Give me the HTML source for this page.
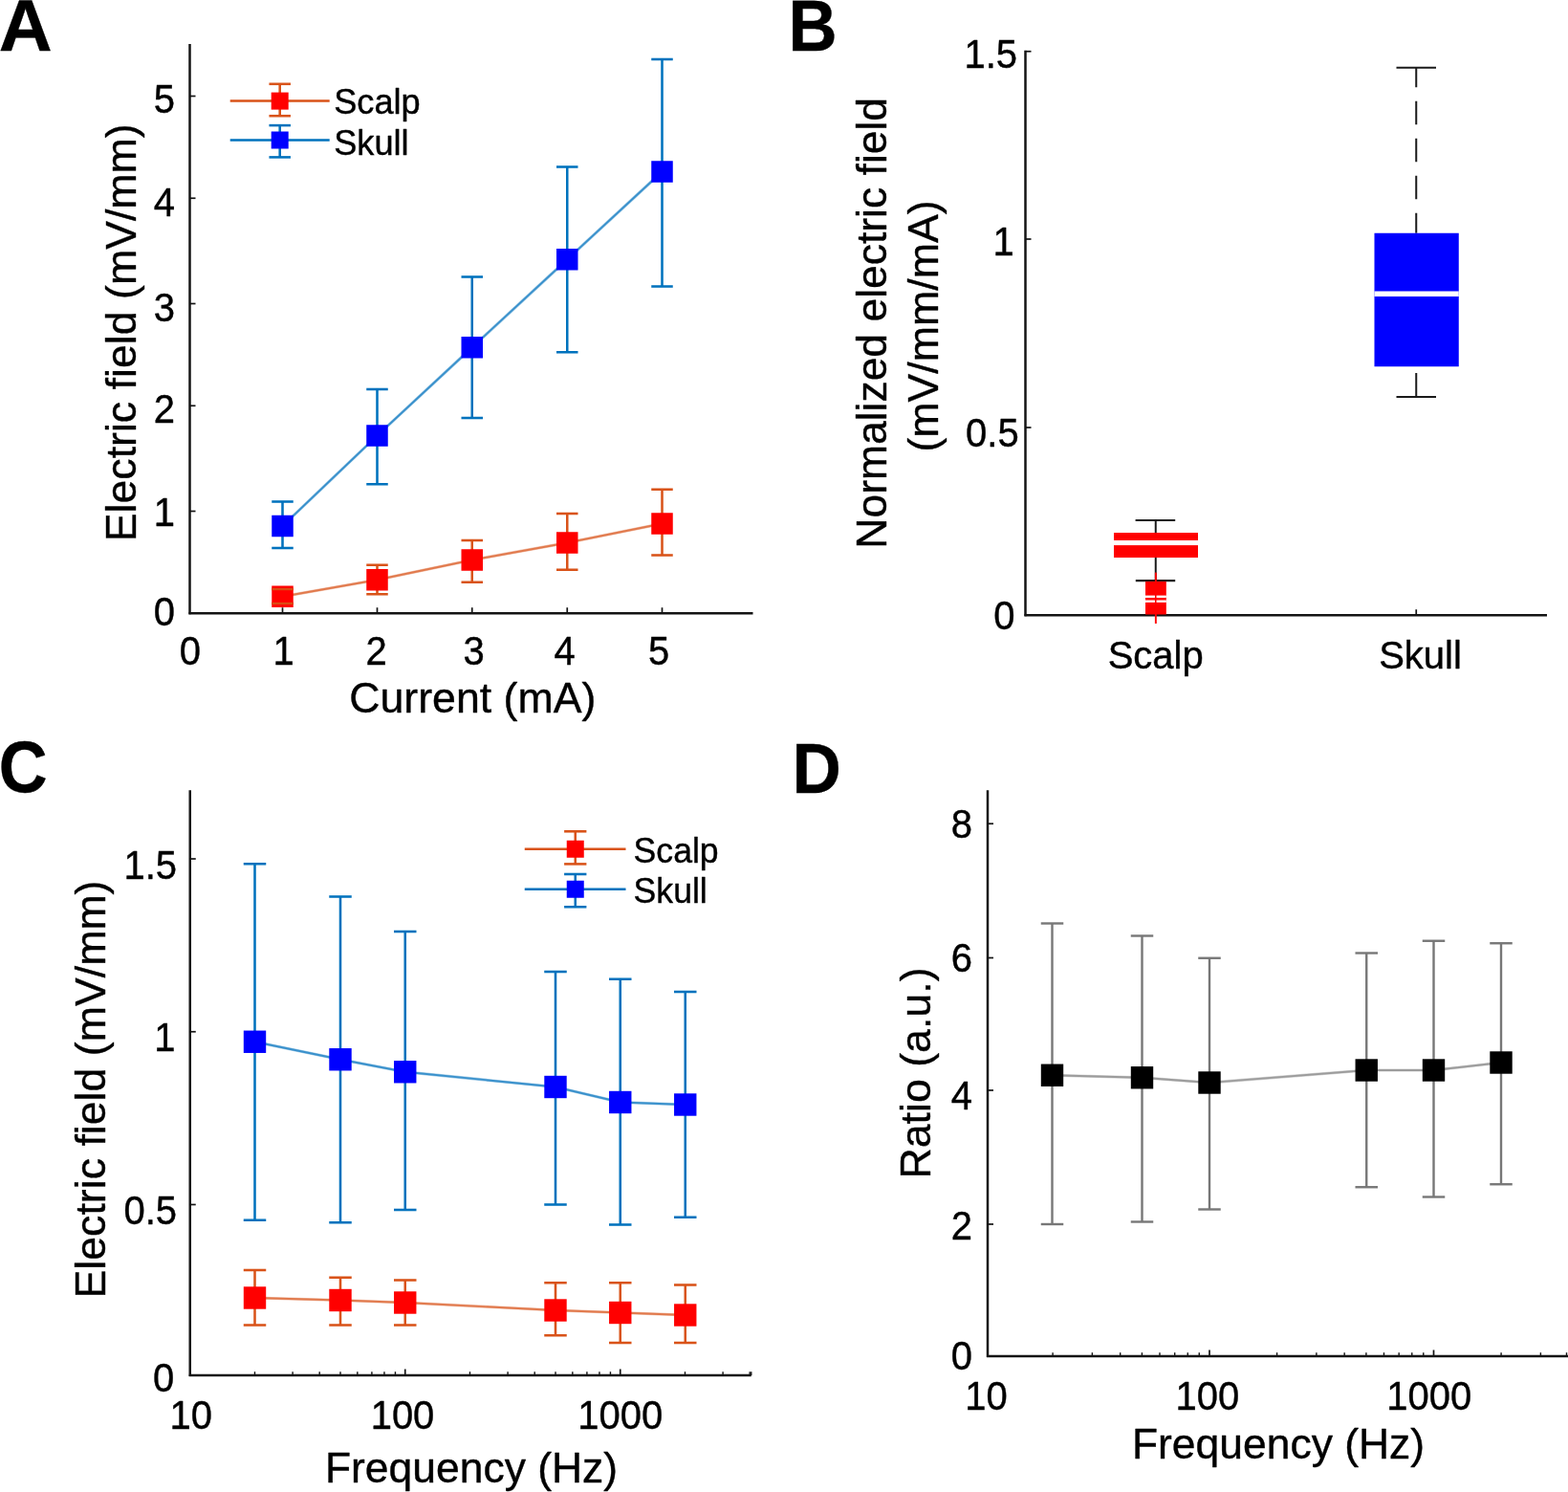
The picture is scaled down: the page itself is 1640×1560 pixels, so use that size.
<!DOCTYPE html>
<html lang="en">
<head>
<meta charset="utf-8">
<title>Electric field measurements: scalp vs skull stimulation</title>
<style>
html, body { margin: 0; padding: 0; background: #fff; }
body { width: 1640px; height: 1560px; overflow: hidden; }
svg { display: block; }
svg text { font-family: "Liberation Sans", sans-serif; fill: #000; stroke: #000; stroke-width: 0.4px; stroke-linejoin: round; }
</style>
</head>
<body>
<svg width="1640" height="1560" viewBox="0 0 1640 1560" role="img" aria-label="Four-panel figure of electric field measurements for scalp and skull stimulation">
<rect x="0" y="0" width="1640" height="1560" fill="#fff"/>
<g id="panelA">
<text transform="translate(-1.30 52.60) scale(1.0670 1.0450)" font-size="72.5" font-weight="bold">A</text>
<line x1="198.50" y1="46.00" x2="198.50" y2="642.25" stroke="#141414" stroke-width="2.5" />
<line x1="197.50" y1="641.25" x2="787.50" y2="641.25" stroke="#141414" stroke-width="2.5" />
<line x1="198.50" y1="100.50" x2="204.50" y2="100.50" stroke="#141414" stroke-width="1.7" />
<text transform="translate(183.00 117.60) scale(1.0000 1.0400)" font-size="40" text-anchor="end">5</text>
<line x1="198.50" y1="207.25" x2="204.50" y2="207.25" stroke="#141414" stroke-width="1.7" />
<text transform="translate(183.00 225.80) scale(1.0000 1.0400)" font-size="40" text-anchor="end">4</text>
<line x1="198.50" y1="317.50" x2="204.50" y2="317.50" stroke="#141414" stroke-width="1.7" />
<text transform="translate(183.00 335.80) scale(1.0000 1.0400)" font-size="40" text-anchor="end">3</text>
<line x1="198.50" y1="424.25" x2="204.50" y2="424.25" stroke="#141414" stroke-width="1.7" />
<text transform="translate(183.00 441.50) scale(1.0000 1.0400)" font-size="40" text-anchor="end">2</text>
<line x1="198.50" y1="534.50" x2="204.50" y2="534.50" stroke="#141414" stroke-width="1.7" />
<text transform="translate(183.00 550.00) scale(1.0000 1.0400)" font-size="40" text-anchor="end">1</text>
<text transform="translate(183.00 653.60) scale(1.0000 1.0400)" font-size="40" text-anchor="end">0</text>
<text transform="translate(198.90 695.00) scale(1.0000 1.0400)" font-size="40" text-anchor="middle">0</text>
<line x1="295.50" y1="641.25" x2="295.50" y2="635.25" stroke="#141414" stroke-width="1.7" />
<text transform="translate(296.50 695.00) scale(1.0000 1.0400)" font-size="40" text-anchor="middle">1</text>
<line x1="394.50" y1="641.25" x2="394.50" y2="635.25" stroke="#141414" stroke-width="1.7" />
<text transform="translate(393.50 695.00) scale(1.0000 1.0400)" font-size="40" text-anchor="middle">2</text>
<line x1="493.75" y1="641.25" x2="493.75" y2="635.25" stroke="#141414" stroke-width="1.7" />
<text transform="translate(495.60 695.00) scale(1.0000 1.0400)" font-size="40" text-anchor="middle">3</text>
<line x1="593.25" y1="641.25" x2="593.25" y2="635.25" stroke="#141414" stroke-width="1.7" />
<text transform="translate(590.50 695.00) scale(1.0000 1.0400)" font-size="40" text-anchor="middle">4</text>
<line x1="692.50" y1="641.25" x2="692.50" y2="635.25" stroke="#141414" stroke-width="1.7" />
<text transform="translate(689.00 695.00) scale(1.0000 1.0400)" font-size="40" text-anchor="middle">5</text>
<text transform="translate(494.30 745.00) scale(1.0000 0.9900)" font-size="44.7" text-anchor="middle">Current (mA)</text>
<text transform="translate(142.00 347.80) rotate(-90) scale(1.0000 0.9900)" font-size="44.7" text-anchor="middle">Electric field (mV/mm)</text>
<polyline points="295.50,623.75 394.50,606.25 493.75,585.50 593.25,567.50 692.50,547.50" fill="none" stroke="#D95319" stroke-width="3.0999999999999996" stroke-opacity="0.35"/>
<polyline points="295.50,623.75 394.50,606.25 493.75,585.50 593.25,567.50 692.50,547.50" fill="none" stroke="#e17a4d" stroke-width="1.9"/>
<line x1="295.50" y1="616.00" x2="295.50" y2="631.00" stroke="#D95319" stroke-width="2.55" />
<line x1="284.25" y1="616.00" x2="306.75" y2="616.00" stroke="#D95319" stroke-width="2.55" />
<line x1="284.25" y1="631.00" x2="306.75" y2="631.00" stroke="#D95319" stroke-width="2.55" />
<line x1="394.50" y1="590.75" x2="394.50" y2="621.25" stroke="#D95319" stroke-width="2.55" />
<line x1="383.25" y1="590.75" x2="405.75" y2="590.75" stroke="#D95319" stroke-width="2.55" />
<line x1="383.25" y1="621.25" x2="405.75" y2="621.25" stroke="#D95319" stroke-width="2.55" />
<line x1="493.75" y1="565.00" x2="493.75" y2="608.75" stroke="#D95319" stroke-width="2.55" />
<line x1="482.50" y1="565.00" x2="505.00" y2="565.00" stroke="#D95319" stroke-width="2.55" />
<line x1="482.50" y1="608.75" x2="505.00" y2="608.75" stroke="#D95319" stroke-width="2.55" />
<line x1="593.25" y1="537.00" x2="593.25" y2="595.75" stroke="#D95319" stroke-width="2.55" />
<line x1="582.00" y1="537.00" x2="604.50" y2="537.00" stroke="#D95319" stroke-width="2.55" />
<line x1="582.00" y1="595.75" x2="604.50" y2="595.75" stroke="#D95319" stroke-width="2.55" />
<line x1="692.50" y1="511.75" x2="692.50" y2="580.50" stroke="#D95319" stroke-width="2.55" />
<line x1="681.25" y1="511.75" x2="703.75" y2="511.75" stroke="#D95319" stroke-width="2.55" />
<line x1="681.25" y1="580.50" x2="703.75" y2="580.50" stroke="#D95319" stroke-width="2.55" />
<rect x="284.25" y="612.50" width="22.50" height="22.50" fill="#FF0000"/>
<rect x="383.25" y="595.00" width="22.50" height="22.50" fill="#FF0000"/>
<rect x="482.50" y="574.25" width="22.50" height="22.50" fill="#FF0000"/>
<rect x="582.00" y="556.25" width="22.50" height="22.50" fill="#FF0000"/>
<rect x="681.25" y="536.25" width="22.50" height="22.50" fill="#FF0000"/>
<polyline points="295.50,550.00 394.50,455.50 493.75,363.25 593.25,271.25 692.50,179.50" fill="none" stroke="#0072BD" stroke-width="3.0999999999999996" stroke-opacity="0.35"/>
<polyline points="295.50,550.00 394.50,455.50 493.75,363.25 593.25,271.25 692.50,179.50" fill="none" stroke="#3a91cc" stroke-width="1.9"/>
<line x1="295.50" y1="524.50" x2="295.50" y2="573.00" stroke="#0072BD" stroke-width="2.55" />
<line x1="284.25" y1="524.50" x2="306.75" y2="524.50" stroke="#0072BD" stroke-width="2.55" />
<line x1="284.25" y1="573.00" x2="306.75" y2="573.00" stroke="#0072BD" stroke-width="2.55" />
<line x1="394.50" y1="407.00" x2="394.50" y2="506.25" stroke="#0072BD" stroke-width="2.55" />
<line x1="383.25" y1="407.00" x2="405.75" y2="407.00" stroke="#0072BD" stroke-width="2.55" />
<line x1="383.25" y1="506.25" x2="405.75" y2="506.25" stroke="#0072BD" stroke-width="2.55" />
<line x1="493.75" y1="289.50" x2="493.75" y2="437.00" stroke="#0072BD" stroke-width="2.55" />
<line x1="482.50" y1="289.50" x2="505.00" y2="289.50" stroke="#0072BD" stroke-width="2.55" />
<line x1="482.50" y1="437.00" x2="505.00" y2="437.00" stroke="#0072BD" stroke-width="2.55" />
<line x1="593.25" y1="174.50" x2="593.25" y2="368.25" stroke="#0072BD" stroke-width="2.55" />
<line x1="582.00" y1="174.50" x2="604.50" y2="174.50" stroke="#0072BD" stroke-width="2.55" />
<line x1="582.00" y1="368.25" x2="604.50" y2="368.25" stroke="#0072BD" stroke-width="2.55" />
<line x1="692.50" y1="62.00" x2="692.50" y2="299.50" stroke="#0072BD" stroke-width="2.55" />
<line x1="681.25" y1="62.00" x2="703.75" y2="62.00" stroke="#0072BD" stroke-width="2.55" />
<line x1="681.25" y1="299.50" x2="703.75" y2="299.50" stroke="#0072BD" stroke-width="2.55" />
<rect x="284.25" y="538.75" width="22.50" height="22.50" fill="#0000FF"/>
<rect x="383.25" y="444.25" width="22.50" height="22.50" fill="#0000FF"/>
<rect x="482.50" y="352.00" width="22.50" height="22.50" fill="#0000FF"/>
<rect x="582.00" y="260.00" width="22.50" height="22.50" fill="#0000FF"/>
<rect x="681.25" y="168.25" width="22.50" height="22.50" fill="#0000FF"/>
<line x1="284.25" y1="616.00" x2="306.75" y2="616.00" stroke="#dc4a12" stroke-width="2.4" />
<line x1="284.25" y1="631.00" x2="306.75" y2="631.00" stroke="#dc4a12" stroke-width="2.4" />
<line x1="240.70" y1="105.60" x2="344.70" y2="105.60" stroke="#D95319" stroke-width="2.5" />
<line x1="292.70" y1="87.80" x2="292.70" y2="121.20" stroke="#D95319" stroke-width="2.55" />
<line x1="281.45" y1="87.80" x2="303.95" y2="87.80" stroke="#D95319" stroke-width="2.55" />
<line x1="281.45" y1="121.20" x2="303.95" y2="121.20" stroke="#D95319" stroke-width="2.55" />
<rect x="283.70" y="96.60" width="18.00" height="18.00" fill="#FF0000"/>
<text transform="translate(349.20 119.10) scale(1.0000 1.0300)" font-size="36.2">Scalp</text>
<line x1="240.70" y1="146.50" x2="344.70" y2="146.50" stroke="#0072BD" stroke-width="2.5" />
<line x1="292.70" y1="131.10" x2="292.70" y2="164.40" stroke="#0072BD" stroke-width="2.55" />
<line x1="281.45" y1="131.10" x2="303.95" y2="131.10" stroke="#0072BD" stroke-width="2.55" />
<line x1="281.45" y1="164.40" x2="303.95" y2="164.40" stroke="#0072BD" stroke-width="2.55" />
<rect x="283.70" y="137.50" width="18.00" height="18.00" fill="#0000FF"/>
<text transform="translate(349.20 161.60) scale(1.0000 1.0300)" font-size="36.2">Skull</text>
</g>
<g id="panelB">
<text transform="translate(824.60 52.80) scale(0.9750 1.0450)" font-size="72.5" font-weight="bold">B</text>
<line x1="1072.50" y1="52.75" x2="1072.50" y2="644.25" stroke="#141414" stroke-width="2.5" />
<line x1="1071.50" y1="643.25" x2="1618.00" y2="643.25" stroke="#141414" stroke-width="2.5" />
<line x1="1072.50" y1="53.75" x2="1078.50" y2="53.75" stroke="#141414" stroke-width="1.7" />
<text transform="translate(1064.00 71.30) scale(1.0000 1.0400)" font-size="40" text-anchor="end">1.5</text>
<line x1="1072.50" y1="250.00" x2="1078.50" y2="250.00" stroke="#141414" stroke-width="1.7" />
<text transform="translate(1060.80 266.70) scale(1.0000 1.0400)" font-size="40" text-anchor="end">1</text>
<line x1="1072.50" y1="447.00" x2="1078.50" y2="447.00" stroke="#141414" stroke-width="1.7" />
<text transform="translate(1065.70 467.00) scale(1.0000 1.0400)" font-size="40" text-anchor="end">0.5</text>
<text transform="translate(1061.50 658.00) scale(1.0000 1.0400)" font-size="40" text-anchor="end">0</text>
<line x1="1481.25" y1="643.25" x2="1481.25" y2="637.25" stroke="#141414" stroke-width="1.7" />
<text transform="translate(1208.70 698.50) scale(1.0000 1.0350)" font-size="40" text-anchor="middle">Scalp</text>
<text transform="translate(1485.50 699.40) scale(1.0000 1.0200)" font-size="40" text-anchor="middle">Skull</text>
<text transform="translate(927.40 337.80) rotate(-90) scale(1.0000 0.9900)" font-size="44.45" text-anchor="middle">Normalized electric field</text>
<text transform="translate(981.00 341.00) rotate(-90) scale(1.0000 0.9900)" font-size="44.7" text-anchor="middle">(mV/mm/mA)</text>
<line x1="1481.25" y1="70.75" x2="1481.25" y2="243.75" stroke="#1a1a1a" stroke-width="2" stroke-dasharray="24.6 14.4" stroke-dashoffset="4.1"/>
<line x1="1460.50" y1="70.75" x2="1502.00" y2="70.75" stroke="#1a1a1a" stroke-width="2.2" />
<line x1="1481.25" y1="390.00" x2="1481.25" y2="415.00" stroke="#1a1a1a" stroke-width="2" />
<line x1="1460.50" y1="415.00" x2="1502.00" y2="415.00" stroke="#1a1a1a" stroke-width="2.2" />
<rect x="1437.50" y="243.75" width="88.25" height="139.50" fill="#0000FF"/>
<rect x="1437.50" y="304.50" width="88.25" height="5.50" fill="#fff"/>
<line x1="1208.75" y1="544.00" x2="1208.75" y2="557.00" stroke="#1a1a1a" stroke-width="2" />
<line x1="1187.60" y1="544.00" x2="1229.20" y2="544.00" stroke="#1a1a1a" stroke-width="2.2" />
<line x1="1208.75" y1="583.00" x2="1208.75" y2="607.00" stroke="#1a1a1a" stroke-width="2" />
<line x1="1187.80" y1="607.20" x2="1229.20" y2="607.20" stroke="#1a1a1a" stroke-width="2.2" />
<rect x="1165.00" y="557.00" width="88.00" height="26.00" fill="#FF0000"/>
<rect x="1165.00" y="565.00" width="88.00" height="5.10" fill="#fff"/>
<rect x="1198.00" y="608.00" width="21.80" height="34.50" fill="#FF0000"/>
<line x1="1208.75" y1="598.75" x2="1208.75" y2="652.00" stroke="#FF0000" stroke-width="1.6" />
<rect x="1198.00" y="622.60" width="21.80" height="2.40" fill="#fff"/>
<rect x="1198.00" y="627.50" width="21.80" height="2.40" fill="#fff"/>
<line x1="1208.75" y1="598.75" x2="1208.75" y2="652.00" stroke="#FF0000" stroke-width="1.6" />
</g>
<g id="panelC">
<text transform="translate(-1.30 828.20) scale(0.9700 1.0500)" font-size="72.5" font-weight="bold">C</text>
<line x1="198.75" y1="826.25" x2="198.75" y2="1439.00" stroke="#141414" stroke-width="2.5" />
<line x1="197.75" y1="1438.00" x2="785.75" y2="1438.00" stroke="#141414" stroke-width="2.5" />
<line x1="198.75" y1="898.00" x2="204.75" y2="898.00" stroke="#141414" stroke-width="1.7" />
<text transform="translate(185.00 918.50) scale(1.0000 1.0400)" font-size="40" text-anchor="end">1.5</text>
<line x1="198.75" y1="1078.75" x2="204.75" y2="1078.75" stroke="#141414" stroke-width="1.7" />
<text transform="translate(183.50 1099.20) scale(1.0000 1.0400)" font-size="40" text-anchor="end">1</text>
<line x1="198.75" y1="1259.50" x2="204.75" y2="1259.50" stroke="#141414" stroke-width="1.7" />
<text transform="translate(185.00 1280.00) scale(1.0000 1.0400)" font-size="40" text-anchor="end">0.5</text>
<text transform="translate(182.30 1454.50) scale(1.0000 1.0400)" font-size="40" text-anchor="end">0</text>
<line x1="266.48" y1="1438.00" x2="266.48" y2="1434.20" stroke="#141414" stroke-width="1.4" />
<line x1="306.10" y1="1438.00" x2="306.10" y2="1434.20" stroke="#141414" stroke-width="1.4" />
<line x1="334.21" y1="1438.00" x2="334.21" y2="1434.20" stroke="#141414" stroke-width="1.4" />
<line x1="356.02" y1="1438.00" x2="356.02" y2="1434.20" stroke="#141414" stroke-width="1.4" />
<line x1="373.83" y1="1438.00" x2="373.83" y2="1434.20" stroke="#141414" stroke-width="1.4" />
<line x1="388.90" y1="1438.00" x2="388.90" y2="1434.20" stroke="#141414" stroke-width="1.4" />
<line x1="401.95" y1="1438.00" x2="401.95" y2="1434.20" stroke="#141414" stroke-width="1.4" />
<line x1="413.45" y1="1438.00" x2="413.45" y2="1434.20" stroke="#141414" stroke-width="1.4" />
<line x1="423.75" y1="1438.00" x2="423.75" y2="1431.50" stroke="#141414" stroke-width="1.7" />
<line x1="491.48" y1="1438.00" x2="491.48" y2="1434.20" stroke="#141414" stroke-width="1.4" />
<line x1="531.10" y1="1438.00" x2="531.10" y2="1434.20" stroke="#141414" stroke-width="1.4" />
<line x1="559.21" y1="1438.00" x2="559.21" y2="1434.20" stroke="#141414" stroke-width="1.4" />
<line x1="581.02" y1="1438.00" x2="581.02" y2="1434.20" stroke="#141414" stroke-width="1.4" />
<line x1="598.83" y1="1438.00" x2="598.83" y2="1434.20" stroke="#141414" stroke-width="1.4" />
<line x1="613.90" y1="1438.00" x2="613.90" y2="1434.20" stroke="#141414" stroke-width="1.4" />
<line x1="626.95" y1="1438.00" x2="626.95" y2="1434.20" stroke="#141414" stroke-width="1.4" />
<line x1="638.45" y1="1438.00" x2="638.45" y2="1434.20" stroke="#141414" stroke-width="1.4" />
<line x1="648.75" y1="1438.00" x2="648.75" y2="1431.50" stroke="#141414" stroke-width="1.7" />
<line x1="716.48" y1="1438.00" x2="716.48" y2="1434.20" stroke="#141414" stroke-width="1.4" />
<line x1="756.10" y1="1438.00" x2="756.10" y2="1434.20" stroke="#141414" stroke-width="1.4" />
<line x1="784.21" y1="1438.00" x2="784.21" y2="1434.20" stroke="#141414" stroke-width="1.4" />
<line x1="785.75" y1="1438.00" x2="785.75" y2="1434.20" stroke="#141414" stroke-width="1.4" />
<text transform="translate(199.70 1493.50) scale(1.0000 1.0400)" font-size="40" text-anchor="middle">10</text>
<text transform="translate(421.00 1493.50) scale(1.0000 1.0400)" font-size="40" text-anchor="middle">100</text>
<text transform="translate(648.80 1493.50) scale(1.0000 1.0400)" font-size="40" text-anchor="middle">1000</text>
<text transform="translate(493.00 1550.00) scale(1.0000 0.9900)" font-size="44.45" text-anchor="middle">Frequency (Hz)</text>
<text transform="translate(110.30 1139.00) rotate(-90) scale(1.0000 0.9900)" font-size="44.7" text-anchor="middle">Electric field (mV/mm)</text>
<polyline points="266.50,1357.00 356.00,1359.50 423.75,1362.00 581.00,1370.00 648.75,1372.50 716.75,1375.00" fill="none" stroke="#D95319" stroke-width="3.0999999999999996" stroke-opacity="0.35"/>
<polyline points="266.50,1357.00 356.00,1359.50 423.75,1362.00 581.00,1370.00 648.75,1372.50 716.75,1375.00" fill="none" stroke="#e17a4d" stroke-width="1.9"/>
<line x1="266.50" y1="1328.00" x2="266.50" y2="1385.50" stroke="#D95319" stroke-width="2.55" />
<line x1="254.75" y1="1328.00" x2="278.25" y2="1328.00" stroke="#D95319" stroke-width="2.55" />
<line x1="254.75" y1="1385.50" x2="278.25" y2="1385.50" stroke="#D95319" stroke-width="2.55" />
<line x1="356.00" y1="1335.75" x2="356.00" y2="1385.50" stroke="#D95319" stroke-width="2.55" />
<line x1="344.25" y1="1335.75" x2="367.75" y2="1335.75" stroke="#D95319" stroke-width="2.55" />
<line x1="344.25" y1="1385.50" x2="367.75" y2="1385.50" stroke="#D95319" stroke-width="2.55" />
<line x1="423.75" y1="1338.50" x2="423.75" y2="1385.50" stroke="#D95319" stroke-width="2.55" />
<line x1="412.00" y1="1338.50" x2="435.50" y2="1338.50" stroke="#D95319" stroke-width="2.55" />
<line x1="412.00" y1="1385.50" x2="435.50" y2="1385.50" stroke="#D95319" stroke-width="2.55" />
<line x1="581.00" y1="1341.25" x2="581.00" y2="1396.25" stroke="#D95319" stroke-width="2.55" />
<line x1="569.25" y1="1341.25" x2="592.75" y2="1341.25" stroke="#D95319" stroke-width="2.55" />
<line x1="569.25" y1="1396.25" x2="592.75" y2="1396.25" stroke="#D95319" stroke-width="2.55" />
<line x1="648.75" y1="1341.25" x2="648.75" y2="1404.00" stroke="#D95319" stroke-width="2.55" />
<line x1="637.00" y1="1341.25" x2="660.50" y2="1341.25" stroke="#D95319" stroke-width="2.55" />
<line x1="637.00" y1="1404.00" x2="660.50" y2="1404.00" stroke="#D95319" stroke-width="2.55" />
<line x1="716.75" y1="1343.50" x2="716.75" y2="1404.00" stroke="#D95319" stroke-width="2.55" />
<line x1="705.00" y1="1343.50" x2="728.50" y2="1343.50" stroke="#D95319" stroke-width="2.55" />
<line x1="705.00" y1="1404.00" x2="728.50" y2="1404.00" stroke="#D95319" stroke-width="2.55" />
<rect x="254.80" y="1345.30" width="23.40" height="23.40" fill="#FF0000"/>
<rect x="344.30" y="1347.80" width="23.40" height="23.40" fill="#FF0000"/>
<rect x="412.05" y="1350.30" width="23.40" height="23.40" fill="#FF0000"/>
<rect x="569.30" y="1358.30" width="23.40" height="23.40" fill="#FF0000"/>
<rect x="637.05" y="1360.80" width="23.40" height="23.40" fill="#FF0000"/>
<rect x="705.05" y="1363.30" width="23.40" height="23.40" fill="#FF0000"/>
<polyline points="266.50,1089.25 356.00,1107.75 423.75,1120.75 581.00,1136.50 648.75,1152.50 716.75,1155.00" fill="none" stroke="#0072BD" stroke-width="3.0999999999999996" stroke-opacity="0.35"/>
<polyline points="266.50,1089.25 356.00,1107.75 423.75,1120.75 581.00,1136.50 648.75,1152.50 716.75,1155.00" fill="none" stroke="#3a91cc" stroke-width="1.9"/>
<line x1="266.50" y1="903.25" x2="266.50" y2="1275.75" stroke="#0072BD" stroke-width="2.55" />
<line x1="254.75" y1="903.25" x2="278.25" y2="903.25" stroke="#0072BD" stroke-width="2.55" />
<line x1="254.75" y1="1275.75" x2="278.25" y2="1275.75" stroke="#0072BD" stroke-width="2.55" />
<line x1="356.00" y1="937.50" x2="356.00" y2="1278.25" stroke="#0072BD" stroke-width="2.55" />
<line x1="344.25" y1="937.50" x2="367.75" y2="937.50" stroke="#0072BD" stroke-width="2.55" />
<line x1="344.25" y1="1278.25" x2="367.75" y2="1278.25" stroke="#0072BD" stroke-width="2.55" />
<line x1="423.75" y1="974.00" x2="423.75" y2="1265.00" stroke="#0072BD" stroke-width="2.55" />
<line x1="412.00" y1="974.00" x2="435.50" y2="974.00" stroke="#0072BD" stroke-width="2.55" />
<line x1="412.00" y1="1265.00" x2="435.50" y2="1265.00" stroke="#0072BD" stroke-width="2.55" />
<line x1="581.00" y1="1016.00" x2="581.00" y2="1259.50" stroke="#0072BD" stroke-width="2.55" />
<line x1="569.25" y1="1016.00" x2="592.75" y2="1016.00" stroke="#0072BD" stroke-width="2.55" />
<line x1="569.25" y1="1259.50" x2="592.75" y2="1259.50" stroke="#0072BD" stroke-width="2.55" />
<line x1="648.75" y1="1023.75" x2="648.75" y2="1280.50" stroke="#0072BD" stroke-width="2.55" />
<line x1="637.00" y1="1023.75" x2="660.50" y2="1023.75" stroke="#0072BD" stroke-width="2.55" />
<line x1="637.00" y1="1280.50" x2="660.50" y2="1280.50" stroke="#0072BD" stroke-width="2.55" />
<line x1="716.75" y1="1037.00" x2="716.75" y2="1272.75" stroke="#0072BD" stroke-width="2.55" />
<line x1="705.00" y1="1037.00" x2="728.50" y2="1037.00" stroke="#0072BD" stroke-width="2.55" />
<line x1="705.00" y1="1272.75" x2="728.50" y2="1272.75" stroke="#0072BD" stroke-width="2.55" />
<rect x="254.80" y="1077.55" width="23.40" height="23.40" fill="#0000FF"/>
<rect x="344.30" y="1096.05" width="23.40" height="23.40" fill="#0000FF"/>
<rect x="412.05" y="1109.05" width="23.40" height="23.40" fill="#0000FF"/>
<rect x="569.30" y="1124.80" width="23.40" height="23.40" fill="#0000FF"/>
<rect x="637.05" y="1140.80" width="23.40" height="23.40" fill="#0000FF"/>
<rect x="705.05" y="1143.30" width="23.40" height="23.40" fill="#0000FF"/>
<line x1="548.75" y1="887.75" x2="654.50" y2="887.75" stroke="#D95319" stroke-width="2.5" />
<line x1="601.75" y1="869.30" x2="601.75" y2="903.40" stroke="#D95319" stroke-width="2.55" />
<line x1="590.10" y1="869.30" x2="613.40" y2="869.30" stroke="#D95319" stroke-width="2.55" />
<line x1="590.10" y1="903.40" x2="613.40" y2="903.40" stroke="#D95319" stroke-width="2.55" />
<rect x="592.75" y="878.75" width="18.00" height="18.00" fill="#FF0000"/>
<text transform="translate(662.60 901.60) scale(1.0000 1.0300)" font-size="35.6">Scalp</text>
<line x1="548.75" y1="929.75" x2="654.50" y2="929.75" stroke="#0072BD" stroke-width="2.5" />
<line x1="601.75" y1="914.00" x2="601.75" y2="948.25" stroke="#0072BD" stroke-width="2.55" />
<line x1="590.10" y1="914.00" x2="613.40" y2="914.00" stroke="#0072BD" stroke-width="2.55" />
<line x1="590.10" y1="948.25" x2="613.40" y2="948.25" stroke="#0072BD" stroke-width="2.55" />
<rect x="592.75" y="920.75" width="18.00" height="18.00" fill="#0000FF"/>
<text transform="translate(662.60 944.10) scale(1.0000 1.0300)" font-size="35.6">Skull</text>
</g>
<g id="panelD">
<text transform="translate(828.50 829.00) scale(0.9800 1.0300)" font-size="72.5" font-weight="bold">D</text>
<line x1="1033.00" y1="826.25" x2="1033.00" y2="1419.00" stroke="#141414" stroke-width="2.5" />
<line x1="1032.00" y1="1418.00" x2="1640.00" y2="1418.00" stroke="#141414" stroke-width="2.5" />
<line x1="1033.00" y1="861.25" x2="1039.00" y2="861.25" stroke="#141414" stroke-width="1.7" />
<text transform="translate(1017.00 875.50) scale(1.0000 1.0400)" font-size="40" text-anchor="end">8</text>
<line x1="1033.00" y1="1001.50" x2="1039.00" y2="1001.50" stroke="#141414" stroke-width="1.7" />
<text transform="translate(1017.00 1016.30) scale(1.0000 1.0400)" font-size="40" text-anchor="end">6</text>
<line x1="1033.00" y1="1140.00" x2="1039.00" y2="1140.00" stroke="#141414" stroke-width="1.7" />
<text transform="translate(1017.00 1159.50) scale(1.0000 1.0400)" font-size="40" text-anchor="end">4</text>
<line x1="1033.00" y1="1280.00" x2="1039.00" y2="1280.00" stroke="#141414" stroke-width="1.7" />
<text transform="translate(1017.00 1295.50) scale(1.0000 1.0400)" font-size="40" text-anchor="end">2</text>
<text transform="translate(1017.00 1432.20) scale(1.0000 1.0400)" font-size="40" text-anchor="end">0</text>
<line x1="1101.09" y1="1418.00" x2="1101.09" y2="1414.20" stroke="#141414" stroke-width="1.4" />
<line x1="1142.38" y1="1418.00" x2="1142.38" y2="1414.20" stroke="#141414" stroke-width="1.4" />
<line x1="1171.68" y1="1418.00" x2="1171.68" y2="1414.20" stroke="#141414" stroke-width="1.4" />
<line x1="1194.41" y1="1418.00" x2="1194.41" y2="1414.20" stroke="#141414" stroke-width="1.4" />
<line x1="1212.98" y1="1418.00" x2="1212.98" y2="1414.20" stroke="#141414" stroke-width="1.4" />
<line x1="1228.68" y1="1418.00" x2="1228.68" y2="1414.20" stroke="#141414" stroke-width="1.4" />
<line x1="1242.27" y1="1418.00" x2="1242.27" y2="1414.20" stroke="#141414" stroke-width="1.4" />
<line x1="1254.27" y1="1418.00" x2="1254.27" y2="1414.20" stroke="#141414" stroke-width="1.4" />
<line x1="1265.00" y1="1418.00" x2="1265.00" y2="1411.50" stroke="#141414" stroke-width="1.7" />
<line x1="1335.59" y1="1418.00" x2="1335.59" y2="1414.20" stroke="#141414" stroke-width="1.4" />
<line x1="1376.88" y1="1418.00" x2="1376.88" y2="1414.20" stroke="#141414" stroke-width="1.4" />
<line x1="1406.18" y1="1418.00" x2="1406.18" y2="1414.20" stroke="#141414" stroke-width="1.4" />
<line x1="1428.91" y1="1418.00" x2="1428.91" y2="1414.20" stroke="#141414" stroke-width="1.4" />
<line x1="1447.48" y1="1418.00" x2="1447.48" y2="1414.20" stroke="#141414" stroke-width="1.4" />
<line x1="1463.18" y1="1418.00" x2="1463.18" y2="1414.20" stroke="#141414" stroke-width="1.4" />
<line x1="1476.77" y1="1418.00" x2="1476.77" y2="1414.20" stroke="#141414" stroke-width="1.4" />
<line x1="1488.77" y1="1418.00" x2="1488.77" y2="1414.20" stroke="#141414" stroke-width="1.4" />
<line x1="1499.50" y1="1418.00" x2="1499.50" y2="1411.50" stroke="#141414" stroke-width="1.7" />
<line x1="1570.09" y1="1418.00" x2="1570.09" y2="1414.20" stroke="#141414" stroke-width="1.4" />
<line x1="1611.38" y1="1418.00" x2="1611.38" y2="1414.20" stroke="#141414" stroke-width="1.4" />
<line x1="1638.50" y1="1418.00" x2="1638.50" y2="1414.20" stroke="#141414" stroke-width="1.4" />
<text transform="translate(1031.40 1473.50) scale(1.0000 1.0400)" font-size="40" text-anchor="middle">10</text>
<text transform="translate(1262.90 1473.50) scale(1.0000 1.0400)" font-size="40" text-anchor="middle">100</text>
<text transform="translate(1494.80 1473.50) scale(1.0000 1.0400)" font-size="40" text-anchor="middle">1000</text>
<text transform="translate(1337.00 1525.00) scale(1.0000 0.9900)" font-size="44.45" text-anchor="middle">Frequency (Hz)</text>
<text transform="translate(973.00 1122.00) rotate(-90) scale(1.0000 0.9900)" font-size="44.7" text-anchor="middle">Ratio (a.u.)</text>
<polyline points="1100.50,1124.25 1194.50,1126.75 1265.00,1132.00 1429.25,1119.00 1499.50,1119.00 1570.00,1111.00" fill="none" stroke="#808080" stroke-width="3.0999999999999996" stroke-opacity="0.35"/>
<polyline points="1100.50,1124.25 1194.50,1126.75 1265.00,1132.00 1429.25,1119.00 1499.50,1119.00 1570.00,1111.00" fill="none" stroke="#9c9c9c" stroke-width="1.9"/>
<line x1="1100.50" y1="965.50" x2="1100.50" y2="1280.00" stroke="#777777" stroke-width="2.4" />
<line x1="1088.75" y1="965.50" x2="1112.25" y2="965.50" stroke="#777777" stroke-width="2.4" />
<line x1="1088.75" y1="1280.00" x2="1112.25" y2="1280.00" stroke="#777777" stroke-width="2.4" />
<line x1="1194.50" y1="978.50" x2="1194.50" y2="1277.50" stroke="#777777" stroke-width="2.4" />
<line x1="1182.75" y1="978.50" x2="1206.25" y2="978.50" stroke="#777777" stroke-width="2.4" />
<line x1="1182.75" y1="1277.50" x2="1206.25" y2="1277.50" stroke="#777777" stroke-width="2.4" />
<line x1="1265.00" y1="1001.75" x2="1265.00" y2="1264.50" stroke="#777777" stroke-width="2.4" />
<line x1="1253.25" y1="1001.75" x2="1276.75" y2="1001.75" stroke="#777777" stroke-width="2.4" />
<line x1="1253.25" y1="1264.50" x2="1276.75" y2="1264.50" stroke="#777777" stroke-width="2.4" />
<line x1="1429.25" y1="996.50" x2="1429.25" y2="1241.25" stroke="#777777" stroke-width="2.4" />
<line x1="1417.50" y1="996.50" x2="1441.00" y2="996.50" stroke="#777777" stroke-width="2.4" />
<line x1="1417.50" y1="1241.25" x2="1441.00" y2="1241.25" stroke="#777777" stroke-width="2.4" />
<line x1="1499.50" y1="983.75" x2="1499.50" y2="1251.50" stroke="#777777" stroke-width="2.4" />
<line x1="1487.75" y1="983.75" x2="1511.25" y2="983.75" stroke="#777777" stroke-width="2.4" />
<line x1="1487.75" y1="1251.50" x2="1511.25" y2="1251.50" stroke="#777777" stroke-width="2.4" />
<line x1="1570.00" y1="986.25" x2="1570.00" y2="1238.25" stroke="#777777" stroke-width="2.4" />
<line x1="1558.25" y1="986.25" x2="1581.75" y2="986.25" stroke="#777777" stroke-width="2.4" />
<line x1="1558.25" y1="1238.25" x2="1581.75" y2="1238.25" stroke="#777777" stroke-width="2.4" />
<rect x="1088.80" y="1112.55" width="23.40" height="23.40" fill="#000"/>
<rect x="1182.80" y="1115.05" width="23.40" height="23.40" fill="#000"/>
<rect x="1253.30" y="1120.30" width="23.40" height="23.40" fill="#000"/>
<rect x="1417.55" y="1107.30" width="23.40" height="23.40" fill="#000"/>
<rect x="1487.80" y="1107.30" width="23.40" height="23.40" fill="#000"/>
<rect x="1558.30" y="1099.30" width="23.40" height="23.40" fill="#000"/>
</g>
</svg>
</body>
</html>
